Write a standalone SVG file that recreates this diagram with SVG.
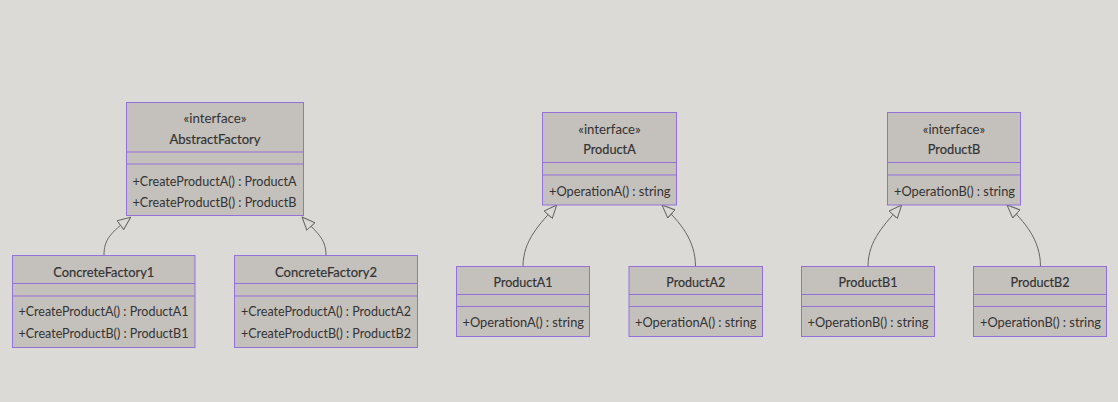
<svg xmlns="http://www.w3.org/2000/svg" width="1118" height="402" viewBox="0 0 1118 402">
<defs>
<style>
.bg{fill:#dcdad7}
.box{fill:#c4c0bb;stroke:#9370db;stroke-width:1}
.div{stroke:#9370db;stroke-width:1}
text{font-family:Lato,"Liberation Sans",sans-serif;font-size:13.5px;fill:#333}
.t{text-anchor:middle;stroke:#333;stroke-width:0.2}
.st{text-anchor:middle;font-size:12.5px}
.edge{fill:none;stroke:#666;stroke-width:1}
</style>
<marker id="ext" viewBox="0 0 14 12" refX="13.5" refY="6" markerWidth="14" markerHeight="12" markerUnits="userSpaceOnUse" orient="auto">
<path d="M0.5,0.5 L13.5,6 L0.5,11.5 Z" fill="#dcdad7" stroke="#666" stroke-width="1"/>
</marker>
</defs>
<rect class="bg" x="0" y="0" width="1118" height="402"/>

<g id="connectors">
<path class="edge" d="M104,255 C104,240 110,233 130.7,217.3" marker-end="url(#ext)"/>
<path class="edge" d="M326,255 C326,238 316,232 302,217" marker-end="url(#ext)"/>
<path class="edge" d="M523,266.5 C523,240 540,224 556.7,205" marker-end="url(#ext)"/>
<path class="edge" d="M695.5,266.5 C695.5,240 680,222 662,205" marker-end="url(#ext)"/>
<path class="edge" d="M868,266.5 C868,240 885,224 901.7,205" marker-end="url(#ext)"/>
<path class="edge" d="M1040.5,266.5 C1040.5,240 1025,222 1007,205" marker-end="url(#ext)"/>
</g>

<g id="AbstractFactory">
<rect class="box" x="126.5" y="102.5" width="177" height="113"/>
<line class="div" x1="126.5" y1="152" x2="303.5" y2="152"/>
<line class="div" x1="126.5" y1="164" x2="303.5" y2="164"/>
<text class="st" x="215" y="123" textLength="63" lengthAdjust="spacingAndGlyphs">«interface»</text>
<text class="t" x="215" y="144" textLength="91" lengthAdjust="spacingAndGlyphs">AbstractFactory</text>
<text x="132.5" y="186" textLength="164" lengthAdjust="spacingAndGlyphs">+CreateProductA() : ProductA</text>
<text x="132.5" y="207" textLength="164" lengthAdjust="spacingAndGlyphs">+CreateProductB() : ProductB</text>
</g>

<g id="ConcreteFactory1">
<rect class="box" x="12.5" y="255.5" width="182.5" height="92"/>
<line class="div" x1="12.5" y1="283.5" x2="195" y2="283.5"/>
<line class="div" x1="12.5" y1="296" x2="195" y2="296"/>
<text class="t" x="103.75" y="276.5" textLength="101" lengthAdjust="spacingAndGlyphs">ConcreteFactory1</text>
<text x="18.5" y="315.5" textLength="170" lengthAdjust="spacingAndGlyphs">+CreateProductA() : ProductA1</text>
<text x="18.5" y="338" textLength="170" lengthAdjust="spacingAndGlyphs">+CreateProductB() : ProductB1</text>
</g>

<g id="ConcreteFactory2">
<rect class="box" x="234.5" y="255.5" width="183" height="92"/>
<line class="div" x1="234.5" y1="283.5" x2="417.5" y2="283.5"/>
<line class="div" x1="234.5" y1="296" x2="417.5" y2="296"/>
<text class="t" x="326" y="276.5" textLength="102" lengthAdjust="spacingAndGlyphs">ConcreteFactory2</text>
<text x="241" y="315.5" textLength="170" lengthAdjust="spacingAndGlyphs">+CreateProductA() : ProductA2</text>
<text x="241" y="338" textLength="170" lengthAdjust="spacingAndGlyphs">+CreateProductB() : ProductB2</text>
</g>

<g id="ProductA">
<rect class="box" x="542.5" y="112.5" width="134" height="92.5"/>
<line class="div" x1="542.5" y1="162.5" x2="676.5" y2="162.5"/>
<line class="div" x1="542.5" y1="175" x2="676.5" y2="175"/>
<text class="st" x="609.5" y="133.5" textLength="62.5" lengthAdjust="spacingAndGlyphs">«interface»</text>
<text class="t" x="609.5" y="154" textLength="52.5" lengthAdjust="spacingAndGlyphs">ProductA</text>
<text x="549" y="196" textLength="121.5" lengthAdjust="spacingAndGlyphs">+OperationA() : string</text>
</g>

<g id="ProductA1">
<rect class="box" x="456.5" y="266.5" width="133" height="70"/>
<line class="div" x1="456.5" y1="294.5" x2="589.5" y2="294.5"/>
<line class="div" x1="456.5" y1="306.5" x2="589.5" y2="306.5"/>
<text class="t" x="523" y="286.5" textLength="59" lengthAdjust="spacingAndGlyphs">ProductA1</text>
<text x="462.5" y="326.5" textLength="121.5" lengthAdjust="spacingAndGlyphs">+OperationA() : string</text>
</g>

<g id="ProductA2">
<rect class="box" x="629" y="266.5" width="133.5" height="70"/>
<line class="div" x1="629" y1="294.5" x2="762.5" y2="294.5"/>
<line class="div" x1="629" y1="306.5" x2="762.5" y2="306.5"/>
<text class="t" x="695.75" y="286.5" textLength="59" lengthAdjust="spacingAndGlyphs">ProductA2</text>
<text x="635" y="326.5" textLength="121.5" lengthAdjust="spacingAndGlyphs">+OperationA() : string</text>
</g>

<g id="ProductB">
<rect class="box" x="887.5" y="112.5" width="133" height="92.5"/>
<line class="div" x1="887.5" y1="162.5" x2="1020.5" y2="162.5"/>
<line class="div" x1="887.5" y1="175" x2="1020.5" y2="175"/>
<text class="st" x="954" y="133.5" textLength="62.5" lengthAdjust="spacingAndGlyphs">«interface»</text>
<text class="t" x="954" y="154" textLength="52.5" lengthAdjust="spacingAndGlyphs">ProductB</text>
<text x="894" y="196" textLength="121" lengthAdjust="spacingAndGlyphs">+OperationB() : string</text>
</g>

<g id="ProductB1">
<rect class="box" x="801.5" y="266.5" width="133" height="70"/>
<line class="div" x1="801.5" y1="294.5" x2="934.5" y2="294.5"/>
<line class="div" x1="801.5" y1="306.5" x2="934.5" y2="306.5"/>
<text class="t" x="868" y="286.5" textLength="59" lengthAdjust="spacingAndGlyphs">ProductB1</text>
<text x="807.5" y="326.5" textLength="121" lengthAdjust="spacingAndGlyphs">+OperationB() : string</text>
</g>

<g id="ProductB2">
<rect class="box" x="973.5" y="266.5" width="133" height="70"/>
<line class="div" x1="973.5" y1="294.5" x2="1106.5" y2="294.5"/>
<line class="div" x1="973.5" y1="306.5" x2="1106.5" y2="306.5"/>
<text class="t" x="1040" y="286.5" textLength="59" lengthAdjust="spacingAndGlyphs">ProductB2</text>
<text x="980" y="326.5" textLength="121" lengthAdjust="spacingAndGlyphs">+OperationB() : string</text>
</g>
</svg>
